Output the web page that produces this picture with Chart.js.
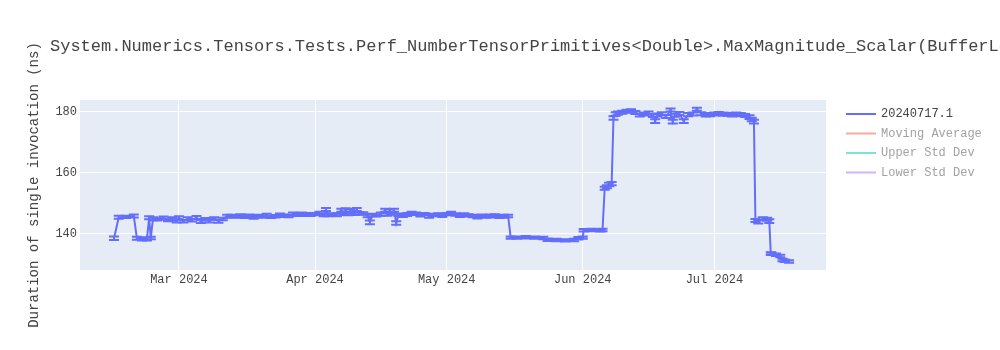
<!DOCTYPE html>
<html><head><meta charset="utf-8">
<script src="https://cdn.jsdelivr.net/npm/chart.js@4.4.1/dist/chart.umd.min.js"></script>
<style>html,body{margin:0;padding:0;background:#fff;}#wrap{width:1000px;height:350px;position:relative;}</style>
</head><body><div id="wrap"><canvas id="c" width="1000" height="350"></canvas></div>
<script>
const chartTitle = 'System.Numerics.Tensors.Tests.Perf_NumberTensorPrimitives<Double>.MaxMagnitude_Scalar(BufferLength: 128)';
const yAxisTitle = 'Duration of single invocation (ns)';
const seriesNames = ['20240717.1', 'Moving Average', 'Upper Std Dev', 'Lower Std Dev'];
const seriesColors = ['#636EFA', '#F7AA9D', '#7FE5CA', '#D5B1FC'];
const seriesVisible = [true, false, false, false];

const dates = [
 '2024-02-15T05:00','2024-02-16T07:00','2024-02-17T22:00','2024-02-19T17:00','2024-02-20T10:00','2024-02-21T14:00','2024-02-22T17:00','2024-02-23T05:00','2024-02-23T14:00','2024-02-24T02:00','2024-02-25T00:00','2024-02-26T12:00','2024-02-27T12:00','2024-02-28T12:00','2024-02-29T12:00',
 '2024-03-01T00:00','2024-03-02T00:00','2024-03-03T00:00','2024-03-04T00:00','2024-03-05T00:00','2024-03-06T00:00','2024-03-07T00:00','2024-03-08T00:00','2024-03-09T00:00','2024-03-10T00:00','2024-03-11T00:00','2024-03-12T00:00','2024-03-13T00:00','2024-03-14T00:00','2024-03-15T00:00','2024-03-16T00:00','2024-03-17T00:00','2024-03-18T00:00','2024-03-19T00:00','2024-03-20T00:00','2024-03-21T00:00','2024-03-22T00:00','2024-03-23T00:00','2024-03-24T00:00','2024-03-25T00:00','2024-03-26T00:00','2024-03-27T00:00','2024-03-28T00:00','2024-03-29T00:00','2024-03-30T00:00','2024-03-31T00:00',
 '2024-04-01T00:00','2024-04-02T00:00','2024-04-03T00:00','2024-04-03T12:00','2024-04-04T00:00','2024-04-05T00:00','2024-04-06T00:00','2024-04-07T00:00','2024-04-07T12:00','2024-04-08T00:00','2024-04-08T12:00','2024-04-09T00:00','2024-04-10T00:00','2024-04-10T12:00','2024-04-11T00:00','2024-04-12T00:00','2024-04-13T00:00','2024-04-13T12:00','2024-04-14T00:00','2024-04-15T00:00','2024-04-16T00:00','2024-04-17T00:00','2024-04-17T12:00','2024-04-18T00:00','2024-04-18T12:00','2024-04-19T00:00','2024-04-19T12:00','2024-04-20T00:00','2024-04-21T00:00','2024-04-22T00:00','2024-04-23T00:00','2024-04-24T00:00','2024-04-25T00:00','2024-04-26T00:00','2024-04-27T00:00','2024-04-28T00:00','2024-04-29T00:00','2024-04-30T00:00',
 '2024-05-01T00:00','2024-05-02T00:00','2024-05-03T00:00','2024-05-04T00:00','2024-05-05T00:00','2024-05-06T00:00','2024-05-07T00:00','2024-05-08T00:00','2024-05-09T00:00','2024-05-10T00:00','2024-05-11T00:00','2024-05-12T00:00','2024-05-13T00:00','2024-05-14T00:00','2024-05-15T00:00','2024-05-15T14:00','2024-05-17T00:00','2024-05-19T00:00','2024-05-21T00:00','2024-05-23T00:00','2024-05-24T00:00','2024-05-26T00:00','2024-05-28T00:00','2024-05-30T00:00','2024-05-31T00:00',
 '2024-06-01T00:00','2024-06-01T05:00','2024-06-03T00:00','2024-06-05T00:00','2024-06-05T12:00','2024-06-06T00:00','2024-06-06T12:00','2024-06-07T00:00','2024-06-07T14:00','2024-06-08T00:00','2024-06-08T12:00','2024-06-09T00:00','2024-06-10T00:00','2024-06-11T00:00','2024-06-12T00:00','2024-06-13T00:00','2024-06-14T00:00','2024-06-15T00:00','2024-06-16T00:00','2024-06-17T00:00','2024-06-17T12:00','2024-06-18T00:00','2024-06-19T00:00','2024-06-20T00:00','2024-06-21T00:00','2024-06-21T12:00','2024-06-22T00:00','2024-06-23T00:00','2024-06-24T00:00','2024-06-25T00:00','2024-06-26T00:00','2024-06-27T00:00','2024-06-28T00:00','2024-06-29T00:00','2024-06-30T00:00',
 '2024-07-01T00:00','2024-07-02T00:00','2024-07-03T00:00','2024-07-04T00:00','2024-07-05T00:00','2024-07-06T00:00','2024-07-07T00:00','2024-07-08T00:00','2024-07-09T00:00','2024-07-09T12:00','2024-07-10T00:00','2024-07-10T08:00','2024-07-11T00:00','2024-07-12T00:00','2024-07-13T00:00','2024-07-13T12:00','2024-07-13T20:00','2024-07-14T00:00','2024-07-15T00:00','2024-07-16T00:00','2024-07-16T12:00','2024-07-17T00:00','2024-07-18T00:00'
];
const values = [
 138.6,145.5,145.6,145.9,138.6,138.3,138.4,145.3,138.7,145.0,144.8,145.2,144.6,144.9,144.3,
 145.3,144.2,145.0,144.5,145.4,144.1,144.8,144.3,145.1,144.2,144.9,145.8,145.9,145.7,146.0,145.6,146.0,145.5,145.9,145.7,146.1,145.6,145.8,146.2,146.0,145.9,146.5,146.3,146.6,146.4,146.3,
 146.5,146.8,146.2,148.0,146.2,146.4,146.3,147.8,146.6,147.9,146.5,147.7,146.6,148.0,146.8,146.7,146.0,143.8,146.2,146.1,146.5,147.8,146.4,147.6,146.7,147.8,143.6,146.3,146.0,146.4,146.9,146.6,146.2,146.5,145.8,146.2,146.4,146.1,
 146.5,146.8,146.4,146.0,146.3,146.1,145.9,145.6,146.0,145.7,145.9,146.1,145.6,145.8,145.9,138.8,138.8,138.9,138.8,138.7,138.1,138.0,137.9,138.0,138.6,
 138.8,141.2,141.3,141.2,141.3,155.0,155.5,156.2,156.5,178.0,179.3,179.6,179.9,180.2,180.4,179.8,179.0,179.3,179.6,178.8,177.0,179.0,179.4,178.5,180.6,176.8,178.9,179.5,177.0,179.1,179.3,180.9,179.4,179.0,179.1,
 179.3,179.5,179.2,179.2,179.0,179.3,179.1,178.8,178.3,177.5,176.8,144.4,144.0,145.0,144.8,144.2,133.6,133.5,133.2,132.8,131.5,131.2,131.0
];
const errors = [
 0.6,0.5,0.4,0.5,0.5,0.4,0.5,0.5,0.4,0.5,0.4,0.5,0.4,0.6,0.5,
 0.5,0.4,0.5,0.4,0.5,0.5,0.4,0.5,0.4,0.5,0.4,0.5,0.4,0.4,0.5,0.4,0.4,0.5,0.4,0.4,0.5,0.4,0.4,0.5,0.4,0.4,0.5,0.4,0.4,0.5,0.4,
 0.4,0.5,0.4,0.5,0.4,0.4,0.5,0.5,0.4,0.5,0.4,0.5,0.4,0.5,0.4,0.4,0.5,0.6,0.4,0.4,0.5,0.5,0.4,0.5,0.4,0.5,0.6,0.4,0.4,0.5,0.4,0.4,0.5,0.4,0.5,0.4,0.4,0.5,
 0.4,0.5,0.4,0.4,0.5,0.4,0.4,0.5,0.4,0.4,0.5,0.4,0.4,0.5,0.4,0.4,0.4,0.4,0.4,0.4,0.4,0.4,0.4,0.4,0.4,
 0.4,0.4,0.4,0.4,0.4,0.5,0.5,0.6,0.5,0.6,0.6,0.5,0.5,0.5,0.5,0.5,0.5,0.5,0.5,0.5,0.6,0.5,0.5,0.5,0.5,0.6,0.5,0.5,0.6,0.5,0.5,0.5,0.5,0.5,0.5,
 0.5,0.5,0.5,0.5,0.5,0.5,0.5,0.5,0.6,0.6,0.6,0.5,0.6,0.5,0.5,0.6,0.4,0.4,0.4,0.4,0.4,0.4,0.4
];
const yTicks = [140, 160, 180];
const xTickDates = ['2024-03-01', '2024-04-01', '2024-05-01', '2024-06-01', '2024-07-01'];
const xTickLabels = ['Mar 2024', 'Apr 2024', 'May 2024', 'Jun 2024', 'Jul 2024'];
const xRange = ['2024-02-07T11:00', '2024-07-26T10:00'];
const yRange = [128.2, 183.9];

const toMs = s => Date.parse(s.length === 10 ? s + 'T00:00:00Z' : s + ':00Z');
const points = dates.map((d, i) => ({x: toMs(d), y: values[i]}));
const FONT = '"Liberation Mono", "Courier New", monospace';
const TXT = '#444';

const decor = {
  id: 'decor',
  beforeDraw(chart) {
    const {ctx, chartArea: a} = chart;
    ctx.save();
    ctx.fillStyle = '#E5ECF6';
    ctx.fillRect(a.left, a.top, a.right - a.left, a.bottom - a.top);
    ctx.restore();
  },
  afterDatasetsDraw(chart) {
    const {ctx, chartArea: a, scales: {x, y}} = chart;
    ctx.save();
    ctx.beginPath();
    ctx.rect(a.left, a.top, a.right - a.left, a.bottom - a.top);
    ctx.clip();
    ctx.strokeStyle = seriesColors[0];
    ctx.lineWidth = 2;
    const hw = 5;
    points.forEach((p, i) => {
      const px = x.getPixelForValue(p.x);
      const yt = y.getPixelForValue(p.y + errors[i]);
      const yb = y.getPixelForValue(p.y - errors[i]);
      ctx.beginPath();
      ctx.moveTo(px, yt); ctx.lineTo(px, yb);
      ctx.moveTo(px - hw, yt); ctx.lineTo(px + hw, yt);
      ctx.moveTo(px - hw, yb); ctx.lineTo(px + hw, yb);
      ctx.stroke();
    });
    ctx.restore();
  },
  afterDraw(chart) {
    const {ctx} = chart;
    ctx.save();
    ctx.fillStyle = TXT;
    ctx.font = '17px ' + FONT;
    ctx.textBaseline = 'middle';
    ctx.textAlign = 'left';
    ctx.fillText(chartTitle, 50, 46);
    const ys = [114, 133.5, 153, 172.5];
    ctx.font = '12px ' + FONT;
    seriesNames.forEach((n, i) => {
      ctx.globalAlpha = 1;
      ctx.strokeStyle = seriesColors[i];
      ctx.lineWidth = 2;
      ctx.beginPath();
      ctx.moveTo(846, ys[i]); ctx.lineTo(876, ys[i]);
      ctx.stroke();
      ctx.fillStyle = seriesVisible[i] ? TXT : '#a2a2a2';
      ctx.fillText(n, 881, ys[i]);
    });
    ctx.restore();
  }
};

new Chart(document.getElementById('c'), {
  type: 'line',
  data: {
    datasets: [{
      label: seriesNames[0],
      data: points,
      borderColor: seriesColors[0],
      backgroundColor: seriesColors[0],
      borderWidth: 2,
      pointRadius: 0,
      tension: 0,
      fill: false
    }]
  },
  options: {
    responsive: false,
    devicePixelRatio: 1,
    animation: false,
    layout: {padding: {left: 0, top: 100, right: 174, bottom: 0}},
    plugins: {legend: {display: false}, title: {display: false}, tooltip: {enabled: false}},
    scales: {
      x: {
        type: 'linear',
        min: toMs(xRange[0]),
        max: toMs(xRange[1]),
        afterBuildTicks: s => { s.ticks = xTickDates.map(d => ({value: toMs(d)})); },
        afterFit: s => { s.height = 80; },
        grid: {color: '#ffffff', lineWidth: 1, drawTicks: false},
        border: {display: false},
        ticks: {
          autoSkip: false, maxRotation: 0, padding: 3, color: TXT,
          font: {family: FONT, size: 12},
          callback: v => { const k = xTickDates.findIndex(d => toMs(d) === v); return k >= 0 ? xTickLabels[k] : ''; }
        }
      },
      y: {
        type: 'linear',
        min: yRange[0],
        max: yRange[1],
        afterBuildTicks: s => { s.ticks = yTicks.map(v => ({value: v})); },
        afterFit: s => { s.width = 80; },
        grid: {color: '#ffffff', lineWidth: 1, drawTicks: false},
        border: {display: false},
        ticks: {padding: 3, color: TXT, font: {family: FONT, size: 12}},
        title: {display: true, text: yAxisTitle, color: TXT, font: {family: FONT, size: 14}, padding: {top: 26, bottom: 0}}
      }
    }
  },
  plugins: [decor]
});
</script></body></html>
